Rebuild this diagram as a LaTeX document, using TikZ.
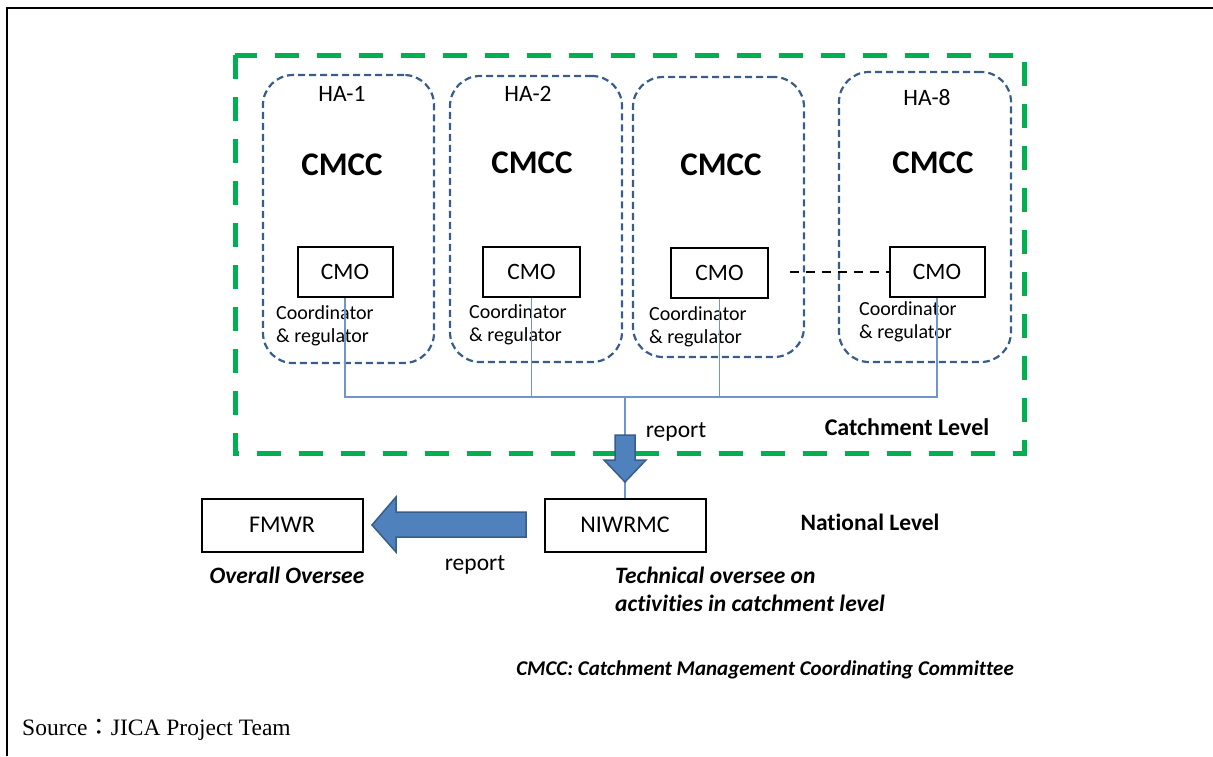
\documentclass[tikz,border=0pt]{standalone}
\usepackage{fontspec}
\setmainfont{Carlito}[Ligatures=NoCommon]
\newfontfamily\srcfont{Liberation Serif}
\newfontfamily\cjk{Noto Sans CJK JP}
\usetikzlibrary{positioning}

\definecolor{greenline}{RGB}{0,176,80}
\definecolor{haline}{RGB}{56,93,138}
\definecolor{linkblue}{RGB}{110,150,205}
\definecolor{arrowfill}{RGB}{79,129,189}

\tikzset{
  areabox/.style={draw=haline, line width=2.2pt, dash pattern=on 7pt off 4pt, rounded corners=30pt, inner sep=0pt},
  cmobox/.style={draw=black, line width=2pt, inner sep=0pt, minimum width=95pt, minimum height=50pt, font=\fontsize{23.5}{23.5}\selectfont},
  orgbox/.style={draw=black, line width=2pt, inner sep=0pt, minimum width=161pt, minimum height=53pt, font=\fontsize{24}{24}\selectfont},
  bigtitle/.style={font=\fontsize{33}{33}\selectfont\bfseries},
  halabel/.style={font=\fontsize{23.5}{23.5}\selectfont},
  roletext/.style={anchor=west, align=left, inner sep=0pt, font=\fontsize{20}{23}\selectfont},
  link/.style={draw=linkblue, line width=1.2pt},
  blockarrow/.style={fill=arrowfill, draw=haline, line width=1.5pt, line join=miter}
}

\begin{document}
\begin{tikzpicture}[x=1pt,y=-1pt]
  \useasboundingbox (0,0) rectangle (1213,756);
  % outer frame
  \draw [line width=2pt] (7,756) -- (7,8) -- (1213,8);
  % catchment level frame
  \draw [greenline, line width=5pt, dash pattern=on 24pt off 18pt] (235,55) rectangle (1024,453);
  % HA areas
  \node [areabox, minimum width=171pt, minimum height=288pt] (ha1) at (348.5,219) {};
  \node [areabox, minimum width=172pt, minimum height=286pt] (ha2) at (536,219) {};
  \node [areabox, minimum width=171pt, minimum height=280pt] (ha3) at (718.5,217) {};
  \node [areabox, minimum width=172pt, minimum height=290pt] (ha8) at (925,217) {};
  \node [halabel] (ha1name) at (342,94) {HA-1};
  \node [halabel] (ha2name) at (528,94) {HA-2};
  \node [halabel] (ha8name) at (927,98) {HA-8};
  \node [bigtitle] (cmcc1) at (342,165) {CMCC};
  \node [bigtitle] (cmcc2) at (532,163) {CMCC};
  \node [bigtitle] (cmcc3) at (721,165) {CMCC};
  \node [bigtitle] (cmcc8) at (933,163) {CMCC};
  % CMO boxes
  \node [cmobox] (cmo1) at (345,272) {CMO};
  \node [cmobox, minimum width=97pt] (cmo2) at (531.5,271.5) {CMO};
  \node [cmobox, minimum width=97pt] (cmo3) at (719.5,272.5) {CMO};
  \node [cmobox] (cmo8) at (937,272) {CMO};
  \node [roletext] (role1) at (276,325.5) {Coordinator\\\& regulator};
  \node [roletext] (role2) at (469,324.5) {Coordinator\\\& regulator};
  \node [roletext] (role3) at (649,326.5) {Coordinator\\\& regulator};
  \node [roletext] (role8) at (859,321.5) {Coordinator\\\& regulator};
  \draw [line width=2pt, dash pattern=on 9pt off 7pt] (790,272) -- (cmo8.west);
  % national level
  \node [orgbox] (fmwr) at (282,525) {FMWR};
  \node [orgbox] (niwrmc) at (625,525) {NIWRMC};
  % links from CMOs
  \coordinate (hub) at (625,397);
  \draw [link] (cmo1.south) -- (cmo1.south |- hub) -- (cmo8.south |- hub) -- (cmo8.south);
  \draw [link] (cmo2.south) -- (cmo2.south |- hub);
  \draw [link] (cmo3.south) -- (cmo3.south |- hub);
  \draw [link] (hub) -- (niwrmc.north);
  % block arrows
  \draw [blockarrow] (615,435) -- (635,435) -- (635,460) -- (646,460) -- (625,482) -- (604,460) -- (615,460) -- cycle;
  \draw [blockarrow] (526,512) -- (396,512) -- (396,497) -- (372,525) -- (396,552) -- (396,537) -- (526,537) -- cycle;
  \node [font=\fontsize{23.5}{23.5}\selectfont] (rep1) at (676,432) {report};
  \node [font=\fontsize{23.5}{23.5}\selectfont] (rep2) at (475,565) {report};
  % level labels
  \node [font=\fontsize{24}{24}\selectfont\bfseries] (catchlvl) at (907,427) {Catchment Level};
  \node [font=\fontsize{23.5}{23.5}\selectfont\bfseries] (natlvl) at (870,522) {National Level};
  % roles
  \node [font=\fontsize{23.5}{23.5}\selectfont\bfseries\itshape] (fmwrrole) at (287,575) {Overall Oversee};
  \node [anchor=west, align=left, inner sep=0pt, font=\fontsize{23.5}{28}\selectfont\bfseries\itshape] (niwrole) at (615,589) {Technical oversee on\\activities in catchment level};
  % notes
  \node [font=\fontsize{21}{21}\selectfont\bfseries\itshape] (abbr) at (765,670) {CMCC: Catchment Management Coordinating Committee};
  \node [anchor=west, inner sep=0pt, font=\fontsize{23.5}{23.5}\selectfont\srcfont] (source) at (22,730) {Source{\cjk ：}JICA Project Team};
\end{tikzpicture}
\end{document}
